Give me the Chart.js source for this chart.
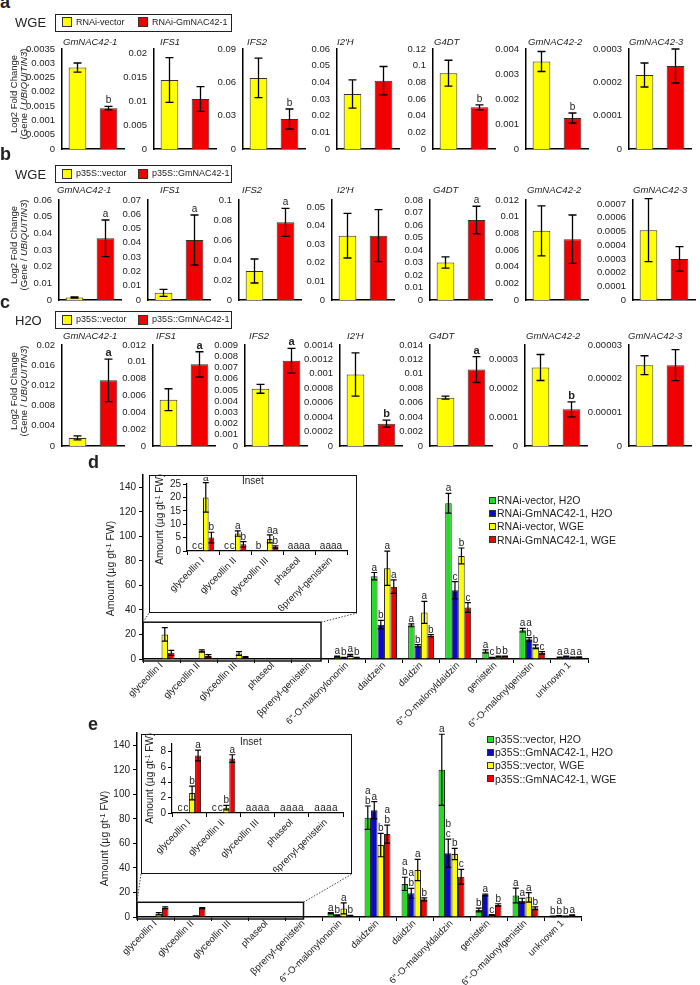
<!DOCTYPE html>
<html>
<head>
<meta charset="utf-8">
<script src="https://cdn.jsdelivr.net/npm/chart.js@4.4.1/dist/chart.umd.min.js"></script>
<style>
  body { margin: 0; width: 700px; height: 985px; position: relative; overflow: hidden; background: #fff;
         font-family: 'Liberation Sans', Arial, sans-serif; color: #222; }
  canvas, .t, .box, .lg { position: absolute; }
  .t { white-space: nowrap; }
  .box { border: 1.5px solid #111; background: #fff; box-sizing: border-box; }
  .lg { border: 1.5px solid #222; box-sizing: border-box; }
  .sw { position: absolute; border: 1px solid #333; box-sizing: border-box; }
  sup { font-size: 70%; vertical-align: 0; position: relative; top: -0.45em; }
</style>
</head>
<body>
<script>
// ---- rows a-c : qRT-PCR, Log2 fold change (Gene / UBIQUITIN3) ----
const genes = ['GmNAC42-1', 'IFS1', 'IFS2', "I2'H", 'G4DT', 'GmNAC42-2', 'GmNAC42-3'];

// a : WGE, RNAi lines
const aGroups = ['RNAi-vector', 'RNAi-GmNAC42-1'];
const aVector    = [0.00285, 0.0145, 0.064, 0.033, 0.091, 0.0035, 0.000222];
const aVectorErr = [0.00016, 0.0047, 0.0177, 0.0085, 0.0155, 0.0004, 0.000036];
const aLine      = [0.00143, 0.0105, 0.027, 0.041, 0.050, 0.00124, 0.000249];
const aLineErr   = [0.00006, 0.0026, 0.009, 0.0085, 0.003, 0.0002, 0.000051];
const aLetters   = ['b', '', 'b', '', 'b', 'b', ''];
const aTicks = [
  ['0', '0.0005', '0.001', '0.0015', '0.002', '0.0025', '0.003', '0.0035'],
  ['0', '0.005', '0.01', '0.015', '0.02'],
  ['0', '0.03', '0.06', '0.09'],
  ['0', '0.01', '0.02', '0.03', '0.04', '0.05', '0.06'],
  ['0', '0.02', '0.04', '0.06', '0.08', '0.1', '0.12'],
  ['0', '0.001', '0.002', '0.003', '0.004'],
  ['0', '0.0001', '0.0002', '0.0003']
];
const aMax = [0.0035, 0.021, 0.09, 0.06, 0.12, 0.004, 0.0003];

// b : WGE, overexpression lines
const bcGroups = ['p35S::vector', 'p35S::GmNAC42-1'];
const bVector    = [0.0015, 0.005, 0.029, 0.0346, 0.030, 0.0083, 0.00051];
const bVectorErr = [0.0003, 0.0025, 0.012, 0.012, 0.0045, 0.003, 0.00023];
const bLine      = [0.037, 0.042, 0.0777, 0.0346, 0.064, 0.0073, 0.0003];
const bLineErr   = [0.011, 0.0175, 0.014, 0.014, 0.011, 0.0029, 0.00009];
const bLetters   = ['a', 'a', 'a', '', 'a', '', ''];
const bTicks = [
  ['0', '0.01', '0.02', '0.03', '0.04', '0.05', '0.06'],
  ['0', '0.01', '0.02', '0.03', '0.04', '0.05', '0.06', '0.07'],
  ['0', '0.02', '0.04', '0.06', '0.08', '0.1'],
  ['0', '0.01', '0.02', '0.03', '0.04', '0.05'],
  ['0', '0.01', '0.02', '0.03', '0.04', '0.05', '0.06', '0.07', '0.08'],
  ['0', '0.002', '0.004', '0.006', '0.008', '0.01', '0.012'],
  ['0', '0.0001', '0.0002', '0.0003', '0.0004', '0.0005', '0.0006', '0.0007']
];
const bMax = [0.06, 0.07, 0.1, 0.0538, 0.08, 0.012, 0.00073];

// c : H2O, overexpression lines
const cVector    = [0.0016, 0.0055, 0.0051, 0.00099, 0.0067, 0.000272, 0.000024];
const cVectorErr = [0.0004, 0.0013, 0.0004, 0.0003, 0.0002, 0.000045, 0.0000028];
const cLine      = [0.013, 0.0097, 0.0076, 0.00031, 0.0106, 0.000127, 0.000024];
const cLineErr   = [0.0042, 0.0015, 0.0011, 0.00005, 0.0018, 0.000026, 0.0000046];
const cLetters   = ['a', 'a', 'a', 'b', 'a', 'b', ''];
const cTicks = [
  ['0', '0.004', '0.008', '0.012', '0.016', '0.02'],
  ['0', '0.002', '0.004', '0.006', '0.008', '0.01', '0.012'],
  ['0', '0.001', '0.002', '0.003', '0.004', '0.005', '0.006', '0.007', '0.008', '0.009'],
  ['0', '0.0002', '0.0004', '0.0006', '0.0008', '0.001', '0.0012', '0.0014'],
  ['0', '0.002', '0.004', '0.006', '0.008', '0.01', '0.012', '0.014'],
  ['0', '0.0001', '0.0002', '0.0003'],
  ['0', '0.00001', '0.00002', '0.00003']
];
const cMax = [0.02, 0.012, 0.009, 0.0014, 0.014, 0.00035, 0.00003];

// ---- panels d, e : isoflavonoid amounts (µg gt-1 FW) ----
const compounds = ['glyceollin I', 'glyceollin II', 'glyceollin III', 'phaseol', 'βprenyl-genistein',
  '6"-O-malonylononin', 'daidzein', 'daidzin', '6"-O-malonyldaidzin', 'genistein',
  '6"-O-malonylgenistin', 'unknown 1'];
const amountTicks = ['0', '20', '40', '60', '80', '100', '120', '140'];

const dSeries = ['RNAi-vector, H2O', 'RNAi-GmNAC42-1, H2O', 'RNAi-vector, WGE', 'RNAi-GmNAC42-1, WGE'];
const dGreen     = [0, 0, 0, 0, 0, 2.0, 67.5, 27.5, 127, 6.2, 23.5, 1.2];
const dGreenErr  = [0, 0, 0, 0, 0, 0.4, 3, 1.2, 8, 1.2, 1.5, 0.3];
const dBlue      = [0, 0, 0, 0, 0, 1.0, 28, 10.8, 56, 1.0, 16, 2.0];
const dBlueErr   = [0, 0, 0, 0, 0, 0.3, 3.5, 1, 7, 0.3, 1.5, 0.3];
const dYellow    = [20, 6.5, 4.5, 0, 0, 3.0, 74, 38, 84, 2.0, 10, 1.2];
const dYellowErr = [5.5, 1, 1.5, 0, 0, 0.8, 14, 9, 6.5, 0.4, 1.5, 0.3];
const dRed       = [5, 2.5, 1.5, 0, 0, 1.0, 59, 19, 42, 2.0, 5, 1.5];
const dRedErr    = [2, 1, 0.4, 0, 0, 0.3, 5.5, 0.8, 4, 0.3, 1, 0.3];
const dLetters = [
  ['', '', '', ''], ['', '', '', ''], ['', '', '', ''], ['', '', '', ''], ['', '', '', ''],
  ['a', 'b', 'a', 'b'], ['a', 'b', 'a', 'a'], ['a', 'b', 'a', 'b'], ['a', 'c', 'b', 'c'],
  ['a', 'c', 'b', 'b'], ['a', 'a\nb', 'b', 'c'], ['a', 'a', 'a', 'a']
];
const dInsetTicks = ['0', '5', '10', '15', '20', '25'];
const dInsetLetters = [
  ['c', 'c', 'a', 'b'], ['c', 'c', 'a', 'b'], ['b', '', 'a', 'a\nb'], ['a', 'a', 'a', 'a'], ['a', 'a', 'a', 'a']
];

const eSeries = ['p35S::vector, H2O', 'p35S::GmNAC42-1, H2O', 'p35S::vector, WGE', 'p35S::GmNAC42-1, WGE'];
const eGreen     = [0, 0, 0, 0, 0, 3.0, 81, 27, 120, 5.7, 17.5, 0.5];
const eGreenErr  = [0, 0, 0, 0, 0, 0.5, 9.5, 5.4, 29, 1.5, 6, 0.2];
const eBlue      = [0, 0, 0, 0, 0, 1.5, 87, 19.3, 52, 18, 13.3, 1.0];
const eBlueErr   = [0, 0, 0, 0, 0, 0.3, 7, 4, 11.5, 0.7, 2, 0.2];
const eYellow    = [2.6, 0.7, 0, 0, 0, 7.0, 58.6, 38.3, 51.3, 1.6, 16, 0.5];
const eYellowErr = [0.9, 0.3, 0, 0, 0, 4.5, 9.5, 8.7, 4.6, 0.4, 3.8, 0.2];
const eRed       = [7.5, 7.1, 0, 0, 0, 1.0, 67.6, 14.4, 32.8, 9.8, 7.1, 1.5];
const eRedErr    = [0.7, 0.5, 0, 0, 0, 0.3, 7.3, 1.2, 6, 1, 1.2, 0.3];
const eLetters = [
  ['', '', '', ''], ['', '', '', ''], ['', '', '', ''], ['', '', '', ''], ['', '', '', ''],
  ['a', 'b', 'a', 'b'], ['a\nb', 'a', 'b', 'a\nb'], ['a\nb', 'a\nb', 'a', 'b'], ['a', 'b\nc', 'b', 'c'],
  ['b', 'a', 'c', 'b'], ['a', 'a', 'a', 'b'], ['b', 'a\nb', 'b', 'a']
];
const eInsetTicks = ['0', '2', '4', '6', '8'];
const eInsetLetters = [
  ['c', 'c', 'b', 'a'], ['c', 'c', 'b', 'a'], ['a', 'a', 'a', 'a'], ['a', 'a', 'a', 'a'], ['a', 'a', 'a', 'a']
];

// ---- colours / layout ----
const YELLOW = '#FFFF00', RED = '#F00000', GREEN = '#22DD22', BLUE = '#0A0AC8';
const rowAxisX = [[62, 154, 243, 337, 433, 526, 629], [59, 148, 239, 332, 430, 526, 633], [62, 153, 245, 340, 430, 525, 629]];
const rowTitleX = [[63, 160, 247, 337, 434, 528, 629], [57, 160, 242, 337, 433, 527, 633], [63, 156, 249, 347, 429, 526, 628]];
const rowZeroY = [149, 300, 446];
const rowPlotH = [100, 100, 101];
const rowTitleY = [42, 190, 336];

Chart.defaults.font.family = "'Liberation Sans', Arial, sans-serif";
Chart.defaults.color = '#222';

// error bars, significance letters and the zoom box of panels d/e
const marksPlugin = {
  id: 'marks',
  afterDatasetsDraw(chart, args, opt) {
    const ctx = chart.ctx, ys = chart.scales.y;
    ctx.save();
    chart.data.datasets.forEach((ds, di) => {
      const meta = chart.getDatasetMeta(di);
      meta.data.forEach((bar, i) => {
        const v = ds.data[i], e = (ds.errors || [])[i] || 0;
        const top = ys.getPixelForValue(v + e);
        if (e > 0) {
          const bot = ys.getPixelForValue(Math.max(v - e, 0));
          ctx.strokeStyle = '#000';
          ctx.lineWidth = opt.lw;
          ctx.beginPath();
          ctx.moveTo(bar.x, top); ctx.lineTo(bar.x, bot);
          ctx.moveTo(bar.x - opt.cap, top); ctx.lineTo(bar.x + opt.cap, top);
          ctx.moveTo(bar.x - opt.cap, bot); ctx.lineTo(bar.x + opt.cap, bot);
          ctx.stroke();
        }
        const lab = (ds.letters || [])[i];
        if (lab) {
          ctx.fillStyle = '#222';
          ctx.font = opt.font;
          ctx.textAlign = 'center';
          ctx.textBaseline = 'alphabetic';
          lab.split('\n').reverse().forEach((t, k) => ctx.fillText(t, bar.x, top - opt.gap - k * opt.lineH));
        }
      });
    });
    ctx.restore();
  },
  afterDraw(chart, args, opt) {
    const zb = opt.zoomBox;
    if (!zb) return;
    const ctx = chart.ctx, ca = chart.chartArea, ys = chart.scales.y;
    const catW = (ca.right - ca.left) / chart.data.labels.length;
    const l = ca.left, r = ca.left + zb.cats * catW, t = ys.getPixelForValue(zb.top), b = ca.bottom + 2;
    const ox = chart.canvas.offsetLeft, oy = chart.canvas.offsetTop;
    ctx.save();
    ctx.strokeStyle = '#111';
    ctx.lineWidth = 1.5;
    ctx.strokeRect(l, t, r - l, b - t);
    ctx.strokeStyle = '#444';
    ctx.lineWidth = 1;
    ctx.setLineDash([1.5, 1.5]);
    ctx.beginPath();
    ctx.moveTo(l, t); ctx.lineTo(zb.left - ox, zb.bottom - oy);
    ctx.moveTo(r, t); ctx.lineTo(zb.right - ox, zb.bottom - oy);
    ctx.stroke();
    ctx.restore();
  }
};

function makeChart(o) {
  const c = document.createElement('canvas');
  const w = o.yw + o.pw + o.pr, h = o.pt + o.ph + o.xh;
  c.width = w; c.height = h;
  c.style.width = w + 'px'; c.style.height = h + 'px';
  c.style.left = (o.x - o.yw) + 'px';
  c.style.top = (o.y - o.pt) + 'px';
  document.body.appendChild(c);
  const tickVals = o.ticks.map(Number);
  return new Chart(c, {
    type: 'bar',
    data: { labels: o.labels, datasets: o.datasets },
    options: {
      responsive: false,
      animation: false,
      devicePixelRatio: 1,
      layout: { padding: { left: 0, top: o.pt, right: o.pr, bottom: 0 }, autoPadding: false },
      plugins: { legend: { display: false }, tooltip: { enabled: false }, marks: o.marks },
      scales: {
        x: {
          grid: { display: o.xLabels, drawOnChartArea: false, drawTicks: o.xLabels, tickLength: 4, color: '#000', offset: true },
          border: { display: true, color: '#000', width: o.axisW },
          ticks: { display: o.xLabels, autoSkip: false, minRotation: 45, maxRotation: 45, padding: o.xPad || 0,
                   color: '#222', font: { size: o.xFont } },
          afterFit: s => { s.height = o.xh; s.paddingLeft = 0; s.paddingRight = 0; }
        },
        y: {
          min: 0, max: o.max,
          grid: { display: o.yMarks, drawOnChartArea: false, drawTicks: o.yMarks, tickLength: 4, color: '#000' },
          border: { display: true, color: '#000', width: o.axisW },
          ticks: { autoSkip: false, padding: o.yPad, color: '#222', font: { size: o.yFont },
                   callback: (v, i) => o.ticks[i] },
          afterBuildTicks: s => { s.ticks = tickVals.map(v => ({ value: v })); },
          afterFit: s => { s.width = o.yw; s.paddingTop = 0; s.paddingBottom = 0; }
        }
      }
    },
    plugins: [marksPlugin]
  });
}

// ---- html text helpers ----
function txt(html, x, cy, size, extra) {
  const d = document.createElement('div');
  d.className = 't';
  d.innerHTML = html;
  d.style.left = x + 'px';
  d.style.top = (cy - size / 2) + 'px';
  d.style.fontSize = size + 'px';
  d.style.lineHeight = size + 'px';
  if (extra) d.style.cssText += extra;
  document.body.appendChild(d);
  return d;
}
function rotLabel(html, cx, cy, w, size, lines) {
  const lh = size + 0.5, hgt = lh * lines;
  const d = txt(html, cx - w / 2, cy, size,
    `width:${w}px;height:${hgt}px;top:${cy - hgt / 2}px;line-height:${lh}px;text-align:center;transform:rotate(-90deg);`);
  return d;
}
function boxLegend(left, top, names) {
  const lg = document.createElement('div');
  lg.className = 'lg';
  lg.style.cssText = `left:${left}px;top:${top}px;width:177px;height:18px;`;
  [[YELLOW, 6, 20], [RED, 82, 96]].forEach(([col, sx, tx], k) => {
    const s = document.createElement('div');
    s.className = 'sw';
    s.style.cssText = `left:${sx}px;top:2.5px;width:10px;height:10px;background:${col};`;
    lg.appendChild(s);
    const t = document.createElement('div');
    t.className = 't';
    t.textContent = names[k];
    t.style.cssText = `left:${tx}px;top:2px;font-size:9px;line-height:11px;`;
    lg.appendChild(t);
  });
  document.body.appendChild(lg);
}
function seriesLegend(left, top, names, cols) {
  names.forEach((n, k) => {
    const y = top + k * 13.3;
    const s = document.createElement('div');
    s.className = 'sw';
    s.style.cssText = `left:${left}px;top:${y - 3.5}px;width:7px;height:7px;background:${cols[k]};`;
    document.body.appendChild(s);
    txt(n, left + 8, y, 10.5);
  });
}

// ---- rows a, b, c ----
const rows = [
  { letter: 'a', cond: 'WGE', groups: aGroups, v: aVector, ve: aVectorErr, l: aLine, le: aLineErr,
    lets: aLetters, ticks: aTicks, max: aMax, legTop: 13.5, letTop: -7, font: '10px "Liberation Sans", Arial' },
  { letter: 'b', cond: 'WGE', groups: bcGroups, v: bVector, ve: bVectorErr, l: bLine, le: bLineErr,
    lets: bLetters, ticks: bTicks, max: bMax, legTop: 165, letTop: 145, font: '10px "Liberation Sans", Arial' },
  { letter: 'c', cond: 'H2O', groups: bcGroups, v: cVector, ve: cVectorErr, l: cLine, le: cLineErr,
    lets: cLetters, ticks: cTicks, max: cMax, legTop: 311, letTop: 293, font: 'bold 11px "Liberation Sans", Arial' }
];

rows.forEach((r, ri) => {
  genes.forEach((g, gi) => {
    makeChart({
      x: rowAxisX[ri][gi], y: rowZeroY[ri] - rowPlotH[ri], pw: 62, ph: rowPlotH[ri],
      yw: 50, pt: 14, pr: 4, xh: 8, axisW: 1.5, xLabels: false, yMarks: false, yPad: 7, yFont: 9.5,
      labels: r.groups, ticks: r.ticks[gi], max: r.max[gi],
      datasets: [{
        data: [r.v[gi], r.l[gi]],
        errors: [r.ve[gi], r.le[gi]],
        letters: ['', r.lets[gi]],
        backgroundColor: [YELLOW, RED],
        borderColor: '#333', borderWidth: 1,
        barPercentage: 0.57, categoryPercentage: 1
      }],
      marks: { lw: 1.3, cap: 4, gap: 3, lineH: 10, font: r.font }
    });
    txt('<i>' + g + '</i>', rowTitleX[ri][gi], rowTitleY[ri], 9.5);
  });
  txt(r.letter, 0, r.letTop + 9, 18, 'font-weight:bold;');
  txt(r.cond, 15, r.legTop + 9, 13);
  boxLegend(55, r.legTop, r.groups);
  rotLabel('Log2 Fold Change<br>(Gene / <i>UBIQUITIN3</i>)', 19, rowZeroY[ri] - 55, 130, 9.5, 2);
});

// ---- panels d, e ----
function seriesSets(vals, errs, letters, cols) {
  return vals.map((v, k) => ({
    data: v, errors: errs[k], letters: letters.map(row => row[k]),
    backgroundColor: cols[k], borderColor: '#222', borderWidth: 1,
    barPercentage: 1, categoryPercentage: 0.7
  }));
}
const cols4 = [GREEN, BLUE, YELLOW, RED];
const bigMarks = { lw: 1.2, cap: 3, gap: 2, lineH: 10, font: '10px "Liberation Sans", Arial' };

function amountPanel(p) {
  makeChart({
    x: p.x, y: p.y, pw: p.pw, ph: 184, yw: 40, pt: 10, pr: 8, xh: p.xh, axisW: 1.5,
    xLabels: true, yMarks: true, yPad: 3, yFont: 10, xFont: 9.5, xPad: -3,
    labels: compounds, ticks: amountTicks, max: 150,
    datasets: seriesSets(p.vals, p.errs, p.letters, cols4),
    marks: Object.assign({ zoomBox: p.zoom }, bigMarks)
  });
  const b = document.createElement('div');
  b.className = 'box';
  b.style.cssText = `left:${p.box[0]}px;top:${p.box[1]}px;width:${p.box[2]}px;height:${p.box[3]}px;`;
  document.body.appendChild(b);
  makeChart({
    x: p.ix, y: p.iy, pw: p.ipw, ph: p.iph, yw: p.ix - p.box[0] - 2, pt: 7, pr: 7,
    xh: p.box[1] + p.box[3] - (p.iy + p.iph) - 2, axisW: 1.2,
    xLabels: true, yMarks: true, yPad: 2, yFont: 10, xFont: 9.5,
    labels: compounds.slice(0, 5), ticks: p.iticks, max: p.imax,
    datasets: seriesSets(p.vals.map(v => v.slice(0, 5)), p.errs.map(v => v.slice(0, 5)), p.iletters, cols4),
    marks: bigMarks
  });
  txt('Inset', p.insetX, p.insetY, 10);
  rotLabel('Amount (µg gt<sup>-1</sup> FW)', p.ilabX, p.ilabY, 110, 10, 1);
  rotLabel('Amount (µg gt<sup>-1</sup> FW)', p.labX, p.labY, 120, 10.5, 1);
  txt(p.letter, 88, p.letterY, 18, 'font-weight:bold;');
  seriesLegend(p.legX, p.legY, p.series, cols4);
}

amountPanel({
  letter: 'd', letterY: 462, x: 143, y: 475, pw: 445, xh: 90,
  vals: [dGreen, dBlue, dYellow, dRed], errs: [dGreenErr, dBlueErr, dYellowErr, dRedErr], letters: dLetters,
  zoom: { cats: 4.8, top: 30, left: 149, right: 357, bottom: 613 },
  box: [149, 475, 208, 138], ix: 187, iy: 484, ipw: 160, iph: 67, imax: 25, iticks: dInsetTicks,
  iletters: dInsetLetters, insetX: 242, insetY: 481, ilabX: 160, ilabY: 519, labX: 110, labY: 568,
  legX: 489, legY: 500, series: dSeries
});
amountPanel({
  letter: 'e', letterY: 724, x: 137, y: 733, pw: 444, xh: 68,
  vals: [eGreen, eBlue, eYellow, eRed], errs: [eGreenErr, eBlueErr, eYellowErr, eRedErr], letters: eLetters,
  zoom: { cats: 4.5, top: 12, left: 141, right: 352, bottom: 874 },
  box: [141, 734, 211, 140], ix: 172, iy: 744, ipw: 171, iph: 69, imax: 9, iticks: eInsetTicks,
  iletters: eInsetLetters, insetX: 240, insetY: 742, ilabX: 150, ilabY: 778, labX: 104, labY: 838,
  legX: 487, legY: 739, series: eSeries
});
</script>
</body>
</html>
